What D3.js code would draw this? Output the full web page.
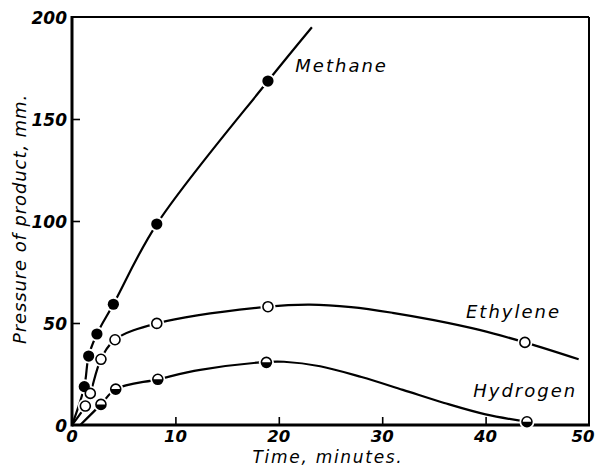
<!DOCTYPE html>
<html>
<head>
<meta charset="utf-8">
<script src="https://cdn.jsdelivr.net/npm/d3@7"></script>
<style>
  html, body { margin: 0; padding: 0; background: #fff; }
  svg { display: block; }
  text { font-family: "DejaVu Sans", sans-serif; font-style: italic; fill: #000; }
</style>
</head>
<body>
<svg id="chart" width="596" height="469"></svg>
<script>
// Measured points (time in minutes, pressure in mm)
const methanePts  = [[1.19, 18.8], [1.61, 33.8], [2.41, 44.6], [4.0, 59.2], [8.2, 98.5], [18.95, 168.6]];
const ethylenePts = [[1.29, 9.3], [1.77, 15.5], [2.8, 32.2], [4.16, 41.8], [8.2, 49.8], [18.95, 58.0], [43.8, 40.5]];
const hydrogenPts = [[2.8, 10.1], [4.23, 17.6], [8.3, 22.4], [18.8, 30.7], [44.0, 1.6]];

// Smooth fitted curves through the measurements
const methaneCurve  = [[0, 0], [1.19, 18.8], [1.61, 33.8], [2.41, 44.6], [4.0, 59.2], [8.2, 98.5], [18.95, 168.6], [23.2, 195]];
const ethyleneCurve = [[0, 0], [1.29, 9.3], [1.77, 15.5], [2.8, 32.2], [4.16, 41.8], [8.2, 49.8], [18.95, 58.0], [23, 59.0], [27, 57.8], [31, 55.0], [35, 51.4], [39.4, 46.6], [43.8, 40.5], [49.0, 32.2]];
const hydrogenCurve = [[0.8, 0], [2.8, 10.1], [4.23, 17.6], [8.3, 22.4], [12.4, 27.0], [18.8, 30.9], [20.5, 31.0], [24, 28.8], [28, 23.5], [32, 17.2], [36, 10.8], [40, 5.2], [44.0, 1.6]];

// Axis ticks and labels
const xTicks = [0, 10, 20, 30, 40, 50];
const yTicks = [0, 50, 100, 150, 200];
const xTitle = "Time, minutes.";
const yTitle = "Pressure of product, mm.";
const seriesLabels = [
  { name: "Methane",  at: [21.6, 173] },
  { name: "Ethylene", at: [38.1, 52.5] },
  { name: "Hydrogen", at: [38.8, 13.7] }
];

const svg = d3.select("#chart");
const mLeft = 72, mRight = 589, mTop = 17, mBottom = 425;

const x = d3.scaleLinear().domain([0, 50]).range([mLeft, mRight]);
const y = d3.scaleLinear().domain([0, 200]).range([mBottom, mTop]);

// Frame
svg.append("line").attr("x1", mLeft).attr("x2", mRight).attr("y1", mTop).attr("y2", mTop)
  .attr("stroke", "#000").attr("stroke-width", 2);
svg.append("line").attr("x1", mRight).attr("x2", mRight).attr("y1", mTop).attr("y2", mBottom)
  .attr("stroke", "#000").attr("stroke-width", 2);

// Axes with inward ticks
const xAxis = d3.axisTop(x).tickValues(xTicks.filter(d => d > 0 && d < 50)).tickSize(8).tickFormat("");
svg.append("g").attr("transform", `translate(0,${mBottom})`).call(xAxis)
  .call(g => g.select(".domain").remove())
  .call(g => g.selectAll("line").attr("stroke-width", 1.6));
const yAxis = d3.axisRight(y).tickValues(yTicks.filter(d => d > 0 && d < 200)).tickSize(8).tickFormat("");
svg.append("g").attr("transform", `translate(${mLeft},0)`).call(yAxis)
  .call(g => g.select(".domain").remove())
  .call(g => g.selectAll("line").attr("stroke-width", 1.6));

svg.append("line").attr("x1", mLeft).attr("x2", mRight + 1).attr("y1", mBottom).attr("y2", mBottom)
  .attr("stroke", "#000").attr("stroke-width", 3);
svg.append("line").attr("x1", mLeft).attr("x2", mLeft).attr("y1", mTop - 1).attr("y2", mBottom + 1.5)
  .attr("stroke", "#000").attr("stroke-width", 3);

// Tick labels
svg.append("g").selectAll("text").data(xTicks).join("text")
  .attr("x", d => x(d) + (d === 50 ? -6 : 0)).attr("y", 442)
  .attr("text-anchor", "middle").attr("font-size", 16.5).attr("font-weight", "bold")
  .text(d => d);
svg.append("g").selectAll("text").data(yTicks).join("text")
  .attr("x", 67).attr("y", d => y(d) + 7)
  .attr("text-anchor", "end").attr("font-size", 17).attr("font-weight", "bold")
  .text(d => d);

// Axis titles
svg.append("text").attr("x", 328).attr("y", 463).attr("text-anchor", "middle")
  .attr("font-size", 17).attr("letter-spacing", 1.7).text(xTitle);
svg.append("text").attr("transform", "translate(26,219) rotate(-90)").attr("text-anchor", "middle")
  .attr("font-size", 18).attr("letter-spacing", 0.9).text(yTitle);

// Curves
const line = d3.line().x(d => x(d[0])).y(d => y(d[1])).curve(d3.curveCatmullRom.alpha(0.5));
[methaneCurve, ethyleneCurve, hydrogenCurve].forEach(c => {
  svg.append("path").attr("d", line(c)).attr("fill", "none")
    .attr("stroke", "#000").attr("stroke-width", 2.2);
});

// Markers: a white halo breaks the line around each point
const r = 5;
function halo(pts) {
  svg.append("g").selectAll("circle").data(pts).join("circle")
    .attr("cx", d => x(d[0])).attr("cy", d => y(d[1])).attr("r", r + 2.5).attr("fill", "#fff");
}
halo(methanePts); halo(ethylenePts); halo(hydrogenPts);

svg.append("g").selectAll("circle").data(methanePts).join("circle")
  .attr("cx", d => x(d[0])).attr("cy", d => y(d[1])).attr("r", r + 0.6)
  .attr("fill", "#000");
svg.append("g").selectAll("circle").data(ethylenePts).join("circle")
  .attr("cx", d => x(d[0])).attr("cy", d => y(d[1])).attr("r", r)
  .attr("fill", "#fff").attr("stroke", "#000").attr("stroke-width", 1.6);
const hg = svg.append("g").selectAll("g").data(hydrogenPts).join("g")
  .attr("transform", d => `translate(${x(d[0])},${y(d[1])})`);
hg.append("circle").attr("r", r).attr("fill", "#fff").attr("stroke", "#000").attr("stroke-width", 1.6);
hg.append("path").attr("d", `M${-r},0 A${r},${r} 0 0 0 ${r},0 Z`).attr("fill", "#000");

// Series labels
svg.append("g").selectAll("text").data(seriesLabels).join("text")
  .attr("x", d => x(d.at[0])).attr("y", d => y(d.at[1]))
  .attr("font-size", 18).attr("letter-spacing", 2).text(d => d.name);
</script>
</body>
</html>
